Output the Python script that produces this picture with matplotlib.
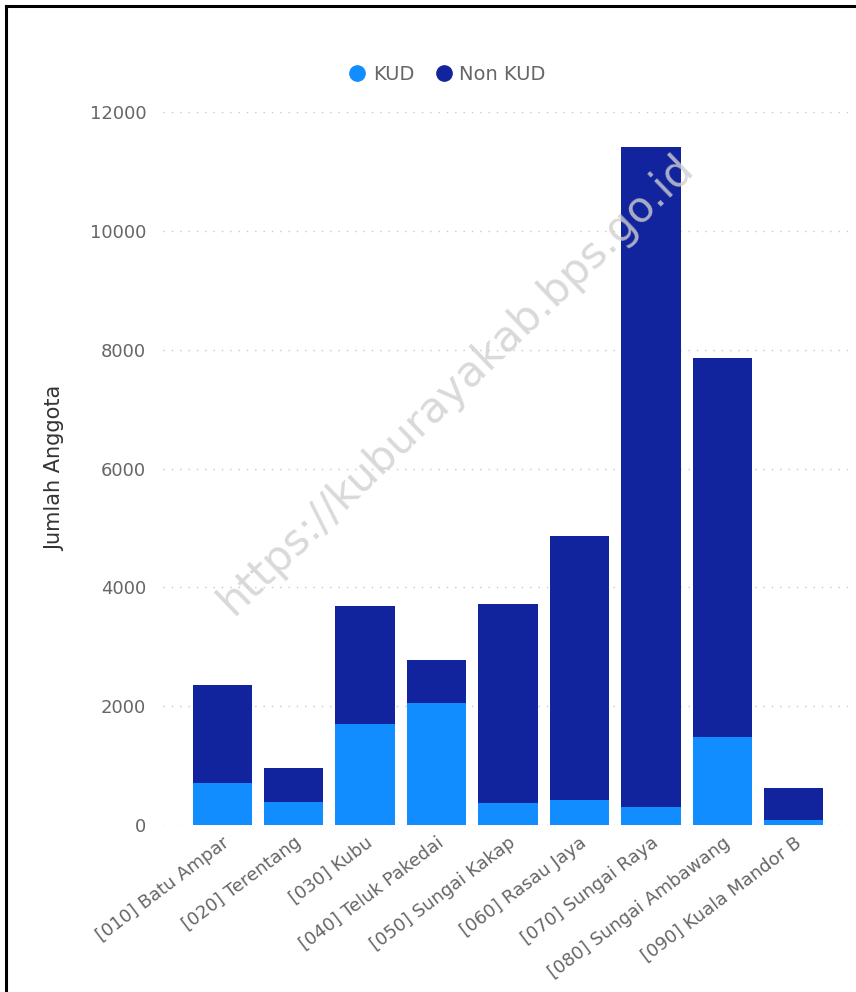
import numpy as np
import matplotlib.pyplot as plt
import matplotlib.transforms as mtransforms
from matplotlib.lines import Line2D

kecamatan = ["[010] Batu Ampar", "[020] Terentang", "[030] Kubu", "[040] Teluk Pakedai",
             "[050] Sungai Kakap", "[060] Rasau Jaya", "[070] Sungai Raya",
             "[080] Sungai Ambawang", "[090] Kuala Mandor B"]
kud = [707, 387, 1700, 2053, 370, 421, 303, 1481, 80]
total = [2356, 959, 3686, 2777, 3720, 4864, 11411, 7860, 623]
non_kud = [t - k for t, k in zip(total, kud)]
yticks = [0, 2000, 4000, 6000, 8000, 10000, 12000]

c_kud = "#118DFF"
c_non = "#12239E"

fig = plt.figure(figsize=(8.56, 9.92), dpi=100)
ax = fig.add_axes([0.1904, 0.1683, 0.8003, 0.7188])

x = np.arange(len(kecamatan))
ax.bar(x, kud, width=0.83, color=c_kud, zorder=3)
ax.bar(x, non_kud, width=0.83, bottom=kud, color=c_non, zorder=3)

ax.set_xlim(-0.83, 8.76)
ax.set_ylim(0, 12000)
ax.set_yticks(yticks)
ax.set_yticklabels([str(v) for v in yticks], fontsize=13, color="#666666")
ax.set_xticks(x)
ax.set_xticklabels(kecamatan, rotation=37, ha="right", rotation_mode="anchor",
                   fontsize=13, color="#666666")
# geser label sumbu x sedikit ke kiri
offset = mtransforms.ScaledTranslation(-0.1, 0, fig.dpi_scale_trans)
for lbl in ax.get_xticklabels():
    lbl.set_transform(lbl.get_transform() + offset)
ax.tick_params(axis="both", length=0)
ax.tick_params(axis="y", pad=12)
ax.tick_params(axis="x", pad=6)
for s in ax.spines.values():
    s.set_visible(False)
ax.yaxis.grid(True, linestyle=(0, (1, 5)), color="#c8c8c8", linewidth=1, zorder=0)
ax.set_axisbelow(True)

ax.set_ylabel("Jumlah Anggota", fontsize=15, color="#333333", labelpad=18)

handles = [Line2D([], [], marker="o", linestyle="", markersize=11, color=c_kud),
           Line2D([], [], marker="o", linestyle="", markersize=11, color=c_non)]
fig.legend(handles, ["KUD", "Non KUD"], loc="center", bbox_to_anchor=(0.516, 0.925),
           ncol=2, frameon=False, fontsize=14, handletextpad=-0.2, columnspacing=0.5,
           labelcolor="#666666")

# watermark
fig.text(0.532, 0.612, "https://kuburayakab.bps.go.id", rotation=44, fontsize=31,
         color="#d0d0d0", alpha=0.8, ha="center", va="center", zorder=10)

# frame
fig.add_artist(Line2D([0.007, 0.007], [0, 0.994], color="black", linewidth=2.2,
                      transform=fig.transFigure))
fig.add_artist(Line2D([0.007, 1.0], [0.994, 0.994], color="black", linewidth=2.2,
                      transform=fig.transFigure))

fig.savefig("out.png", dpi=100)
